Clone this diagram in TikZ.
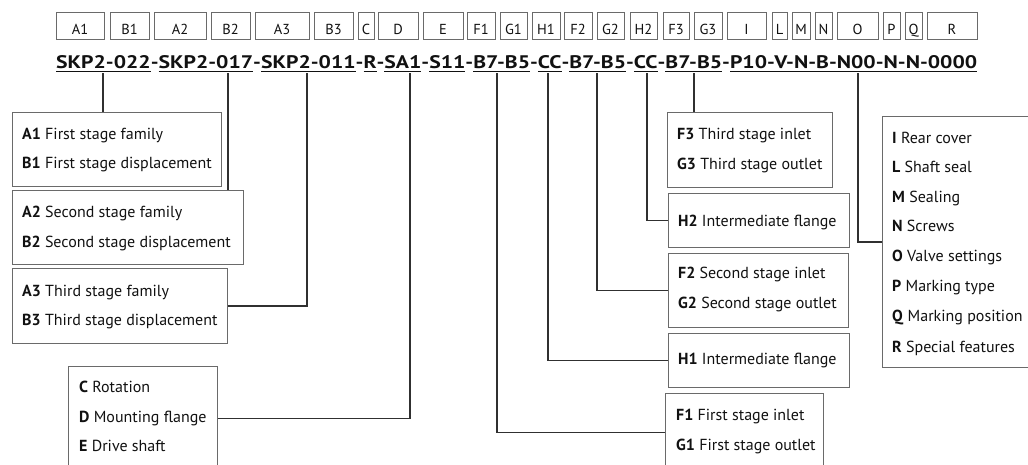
\documentclass[tikz,border=0pt]{standalone}
\usepackage{fontspec}
\setmainfont{PT Sans}
\definecolor{boxgray}{HTML}{6A6A6A}
\definecolor{conngray}{HTML}{303030}
\definecolor{txt}{HTML}{111111}
\newcommand{\ulseg}[1]{\setbox0\hbox{#1}\rlap{\rule[-4pt]{\wd0}{1.4pt}}\box0}
\newcommand{\TopBox}[4]{%
  \node[topbox, minimum width={#3-#2}] (t#1) at (#2,12) {};
  \node[toplbl] (l#1) at ({(#2+#3)/2},34) {#4};}
\begin{document}
\begin{tikzpicture}[x=1pt,y=-1pt,
  topbox/.style={draw=boxgray, line width=0.8pt, inner sep=0pt, anchor=north west, minimum height=27},
  toplbl/.style={anchor=base, inner sep=0pt, text=txt, font=\fontsize{14.5}{17}\selectfont},
  lowbox/.style={draw=boxgray, line width=0.9pt, inner sep=0pt, anchor=north west},
  lbl/.style={anchor=base west, inner sep=0pt, text=txt, font=\fontsize{16}{19}\selectfont},
  conn/.style={draw=conngray, line width=1.4pt}]
\useasboundingbox (0,0) rectangle (1028,464);
\clip (0,0) rectangle (1028,464);
% top row of boxes
\TopBox{A1}{56}{104}{A1}
\TopBox{B1}{110}{149}{B1}
\TopBox{A2}{154}{206}{A2}
\TopBox{B2}{211}{250}{B2}
\TopBox{A3}{255}{309}{A3}
\TopBox{B3}{314}{353}{B3}
\TopBox{C}{358}{374}{C}
\TopBox{D}{378}{418}{D}
\TopBox{E}{423}{463}{E}
\TopBox{F1}{467}{495}{F1}
\TopBox{G1}{500}{527}{G1}
\TopBox{H1}{532}{560}{H1}
\TopBox{F2}{564}{592}{F2}
\TopBox{G2}{597}{624}{G2}
\TopBox{H2}{630}{657}{H2}
\TopBox{F3}{663}{689}{F3}
\TopBox{G3}{694}{722}{G3}
\TopBox{I}{727}{766}{I}
\TopBox{L}{772}{787}{L}
\TopBox{M}{792}{810}{M}
\TopBox{N}{815}{832}{N}
\TopBox{O}{837}{878}{O}
\TopBox{P}{883}{900}{P}
\TopBox{Q}{905}{922}{Q}
\TopBox{R}{927}{977}{R}
% code line
\node[anchor=base west, inner sep=0pt, text=txt] (code) at (56,68)
  {\resizebox{921pt}{13pt}{\fontsize{18.5}{22}\selectfont\bfseries
   \ulseg{SKP2-022}-\ulseg{SKP2-017}-\ulseg{SKP2-011}-\ulseg{R}-\ulseg{SA1}-\ulseg{S11}-\ulseg{B7-B5}-\ulseg{CC}-\ulseg{B7-B5}-\ulseg{CC}-\ulseg{B7-B5}-\ulseg{P10-V-N-B-N00-N-N-0000}}};
% connector start points on the code line
\coordinate (cA1) at (103,73);
\coordinate (cA2) at (228,73);
\coordinate (cA3) at (307,73);
\coordinate (cD) at (410,73);
\coordinate (cF1) at (497,73);
\coordinate (cH1) at (548,73);
\coordinate (cF2) at (597,73);
\coordinate (cH2) at (647,73);
\coordinate (cF3) at (694,73);
\coordinate (cI) at (858,73);
% left boxes
\node[lowbox, minimum width=209, minimum height=74] (bA1) at (12,112) {};
\node[lbl] (tA1) at (22,139) {\textbf{A1} First stage family};
\node[lbl] (tB1) at (22,168) {\textbf{B1} First stage displacement};
\node[lowbox, minimum width=231, minimum height=74] (bA2) at (12,190) {};
\node[lbl] (tA2) at (22,217) {\textbf{A2} Second stage family};
\node[lbl] (tB2) at (22,247) {\textbf{B2} Second stage displacement};
\node[lowbox, minimum width=215, minimum height=75] (bA3) at (12,268) {};
\node[lbl] (tA3) at (22,296) {\textbf{A3} Third stage family};
\node[lbl] (tB3) at (22,325) {\textbf{B3} Third stage displacement};
\node[lowbox, minimum width=149, minimum height=104] (bC) at (68,366) {};
\node[lbl] (tC) at (79,392) {\textbf{C} Rotation};
\node[lbl] (tD) at (79,422) {\textbf{D} Mounting flange};
\node[lbl] (tE) at (79,451) {\textbf{E} Drive shaft};
% right boxes
\node[lowbox, minimum width=165, minimum height=75] (bF3) at (667,112) {};
\node[lbl] (tF3) at (677,139) {\textbf{F3} Third stage inlet};
\node[lbl] (tG3) at (677,169) {\textbf{G3} Third stage outlet};
\node[lowbox, minimum width=181, minimum height=54] (bH2) at (668,193) {};
\node[lbl] (tH2) at (678,226) {\textbf{H2} Intermediate flange};
\node[lowbox, minimum width=180, minimum height=74] (bF2) at (668,253) {};
\node[lbl] (tF2) at (678,278) {\textbf{F2} Second stage inlet};
\node[lbl] (tG2) at (678,308) {\textbf{G2} Second stage outlet};
\node[lowbox, minimum width=181, minimum height=54] (bH1) at (668,333) {};
\node[lbl] (tH1) at (678,364) {\textbf{H1} Intermediate flange};
\node[lowbox, minimum width=158, minimum height=78] (bF1) at (665,393) {};
\node[lbl] (tF1) at (676,420) {\textbf{F1} First stage inlet};
\node[lbl] (tG1) at (676,450) {\textbf{G1} First stage outlet};
\node[lowbox, minimum width=160, minimum height=251] (bI) at (882,116) {};
\node[lbl] (tI) at (892,143) {\textbf{I} Rear cover};
\node[lbl] (tL) at (892,172) {\textbf{L} Shaft seal};
\node[lbl] (tM) at (892,202) {\textbf{M} Sealing};
\node[lbl] (tN) at (892,231) {\textbf{N} Screws};
\node[lbl] (tO) at (892,261) {\textbf{O} Valve settings};
\node[lbl] (tP) at (892,291) {\textbf{P} Marking type};
\node[lbl] (tQ) at (892,321) {\textbf{Q} Marking position};
\node[lbl] (tR) at (892,352) {\textbf{R} Special features};
% connectors
\draw[conn] (cA1) -- (cA1 |- bA1.north);
\draw[conn] (cA2) -- (cA2 |- bA2.north);
\draw[conn] (cA3) |- (bA3.east);
\draw[conn] (cD) |- (bC.east);
\draw[conn] (cF1) |- (bF1.west);
\draw[conn] (cH1) |- (bH1.west);
\draw[conn] (cF2) |- (bF2.west);
\draw[conn] (cH2) |- (bH2.west);
\draw[conn] (cF3) -- (cF3 |- bF3.north);
\draw[conn] (cI) |- (bI.west);
\end{tikzpicture}
\end{document}
